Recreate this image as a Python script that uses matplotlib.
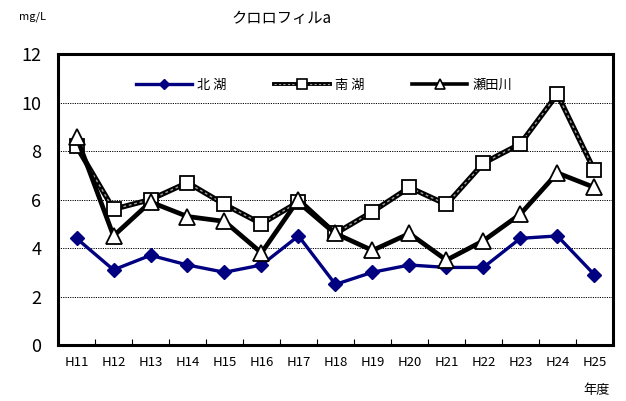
import matplotlib
matplotlib.use('Agg')
import matplotlib.pyplot as plt
from matplotlib.legend_handler import HandlerTuple

plt.rcParams['font.family'] = ['Noto Sans CJK JP', 'DejaVu Sans']

# --- data ---
years = ['H11', 'H12', 'H13', 'H14', 'H15', 'H16', 'H17', 'H18',
         'H19', 'H20', 'H21', 'H22', 'H23', 'H24', 'H25']
north_lake = [4.4, 3.1, 3.7, 3.3, 3.0, 3.3, 4.5, 2.5, 3.0, 3.3, 3.2, 3.2, 4.4, 4.5, 2.9]
south_lake = [8.2, 5.6, 6.0, 6.7, 5.8, 5.0, 5.9, 4.6, 5.5, 6.5, 5.8, 7.5, 8.3, 10.35, 7.2]
seta_river = [8.6, 4.5, 5.9, 5.3, 5.1, 3.8, 6.0, 4.6, 3.9, 4.6, 3.5, 4.3, 5.4, 7.1, 6.5]

fig = plt.figure(figsize=(6.26, 4.01), dpi=100)
ax = fig.add_axes([0.0927, 0.1397, 0.979 - 0.0927, 0.865 - 0.1397])

x = list(range(len(years)))

# grid lines
for v in [2, 4, 6, 8, 10]:
    ax.axhline(v, color='black', lw=0.7, ls=(0, (1.2, 1.2)), zorder=0)

h_n, = ax.plot(x, north_lake, color='#000080', lw=2.4, marker='D', ms=7,
               mfc='#000080', mec='#000080', zorder=3)
# south lake: thick black line with grey dashes inside
h_s1, = ax.plot(x, south_lake, color='black', lw=3.8, zorder=4)
h_s2, = ax.plot(x, south_lake, color='#a0a0a0', lw=1.0, ls=(0, (2, 2)), zorder=5)
h_s3, = ax.plot(x, south_lake, ls='none', marker='s', ms=10, mfc='white',
                mec='black', mew=1.3, zorder=6)
h_t, = ax.plot(x, seta_river, color='black', lw=3.4, marker='^', ms=11,
               mfc='white', mec='black', mew=1.3, zorder=7)

ax.set_xlim(-0.5, len(years) - 0.5)
ax.set_ylim(0, 12)
ax.set_yticks([0, 2, 4, 6, 8, 10, 12])
ax.set_yticklabels(['0', '2', '4', '6', '8', '10', '12'], fontsize=13)
ax.tick_params(axis='y', length=0, pad=12)

ax.set_xticks([i + 0.5 for i in range(len(years) - 1)], minor=False)
ax.set_xticklabels([])
ax.tick_params(axis='x', direction='in', length=4, width=0.8)
ax.set_xticks(x, minor=True)
ax.set_xticklabels(years, minor=True, fontsize=9.5)
ax.tick_params(axis='x', which='minor', length=0, pad=8)

for s in ax.spines.values():
    s.set_linewidth(2.2)

fig.text(0.45, 0.953, 'クロロフィルa', ha='center', va='center', fontsize=11)
fig.text(0.03, 0.958, 'mg/L', ha='left', va='center', fontsize=8)
fig.text(0.975, 0.025, '年度', ha='right', va='center', fontsize=9.5)

small_s = ax.plot([], [], ls='none', marker='s', ms=7, mfc='white', mec='black', mew=1.2)[0]
leg_s1 = ax.plot([], [], color='black', lw=2.8)[0]
leg_s2 = ax.plot([], [], color='#a0a0a0', lw=0.8, ls=(0, (2, 2)))[0]
small_t = ax.plot([], [], color='black', lw=2.6, marker='^', ms=7, mfc='white', mec='black', mew=1.2)[0]
small_n = ax.plot([], [], color='#000080', lw=2.4, marker='D', ms=5)[0]
ax.legend([small_n, (leg_s1, leg_s2, small_s), small_t], ['北 湖', '南 湖', '瀬田川'],
          handler_map={tuple: HandlerTuple(ndivide=1, pad=0)},
          ncol=3, frameon=False, loc='center', bbox_to_anchor=(0.48, 0.893),
          handlelength=4.2, columnspacing=3.6, handletextpad=0.4, fontsize=9.5)

fig.savefig('out.png', dpi=100)
